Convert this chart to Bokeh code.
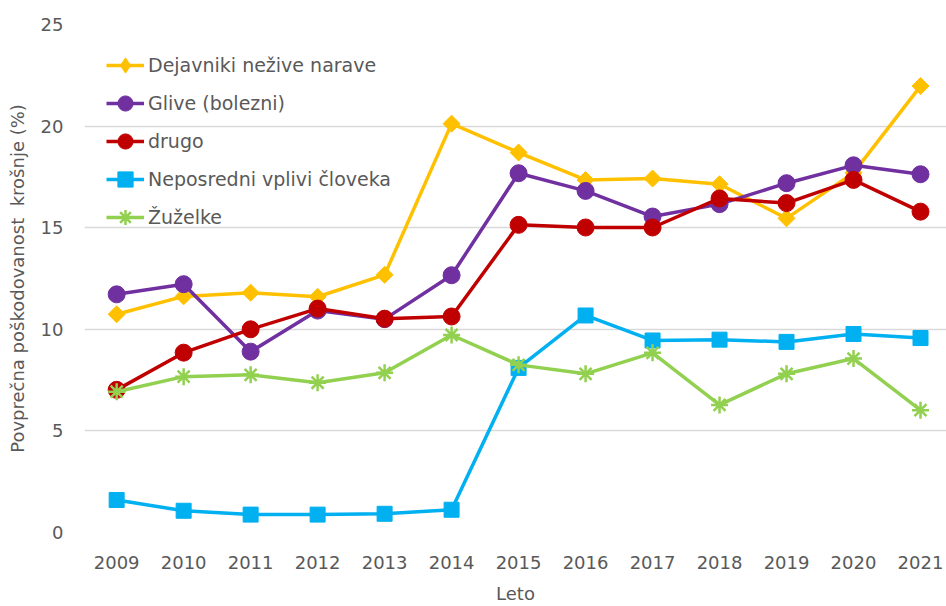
import numpy as np
from bokeh.plotting import figure
from bokeh.models import FixedTicker, Legend
from bokeh.embed import file_html
from bokeh.resources import INLINE

years = [2009, 2010, 2011, 2012, 2013, 2014, 2015, 2016, 2017, 2018, 2019, 2020, 2021]
dejavniki = [10.74, 11.62, 11.8, 11.6, 12.68, 20.12, 18.7, 17.35, 17.42, 17.14, 15.46, 17.7, 21.97]
glive = [11.72, 12.22, 8.9, 10.92, 10.5, 12.66, 17.68, 16.81, 15.55, 16.16, 17.19, 18.07, 17.63]
drugo = [7.02, 8.85, 10.0, 11.02, 10.52, 10.63, 15.14, 15.01, 15.01, 16.44, 16.21, 17.35, 15.79]
neposredni = [1.6, 1.07, 0.88, 0.88, 0.92, 1.12, 8.1, 10.68, 9.45, 9.49, 9.38, 9.77, 9.57]
zuzelke = [6.93, 7.67, 7.76, 7.37, 7.86, 9.72, 8.25, 7.81, 8.84, 6.28, 7.81, 8.56, 6.02]

names = ["Dejavniki nežive narave", "Glive (bolezni)", "drugo", "Neposredni vplivi človeka", "Žuželke"]
y_ticks = [0, 5, 10, 15, 20, 25]

FONT = "DejaVu Sans"
TXT = "#595959"

p = figure(width=946, height=606, output_backend="svg", toolbar_location=None,
           x_range=(2008.52, 2021.388), y_range=(0, 25),
           min_border_left=84, min_border_right=0, min_border_top=24, min_border_bottom=70)
p.outline_line_color = None
p.background_fill_color = "white"
p.border_fill_color = "white"

p.xgrid.visible = False
p.ygrid.grid_line_color = "#D9D9D9"
p.ygrid.grid_line_width = 1.5

p.xaxis.ticker = FixedTicker(ticks=years)
p.yaxis.ticker = FixedTicker(ticks=y_ticks)
for ax in (p.xaxis[0], p.yaxis[0]):
    ax.axis_line_color = None
    ax.major_tick_line_color = None
    ax.minor_tick_line_color = None
    ax.major_tick_out = 0
    ax.major_tick_in = 0
    ax.major_label_text_font = FONT
    ax.major_label_text_font_size = "18px"
    ax.major_label_text_color = TXT
    ax.axis_label_text_font = FONT
    ax.axis_label_text_font_size = "18px"
    ax.axis_label_text_color = TXT
    ax.axis_label_text_font_style = "normal"
p.xaxis.major_label_standoff = 23
p.yaxis.major_label_standoff = 21
p.xaxis.axis_label = "Leto"
p.xaxis.axis_label_standoff = 11
p.yaxis.axis_label = "Povprečna poškodovanost\u00a0 krošnje (%)"
p.yaxis.axis_label_standoff = 10

series = [dejavniki, glive, drugo, neposredni, zuzelke]
colors = ["#FFC000", "#7030A0", "#C00000", "#00B0F0", "#92D050"]
items = []
for name, vals, col in zip(names, series, colors):
    r1 = p.line(years, vals, line_color=col, line_width=3.5)
    if name.startswith("Dejavniki"):
        # diamond glyph used for the legend swatch (legend markers are drawn unrotated)
        r2 = p.scatter(years, vals, marker="diamond", size=12, fill_color=col, line_color=col)
        p.scatter(years, vals, marker="square", angle=np.pi / 4, size=12,
                  fill_color=col, line_color=col)
    elif name.startswith("Neposredni"):
        r2 = p.scatter(years, vals, marker="square", size=15, fill_color=col, line_color=col)
    elif name.startswith("Žuželke"):
        r2 = p.scatter(years, vals, marker="asterisk", size=17, line_color=col, line_width=2.5)
    else:
        r2 = p.scatter(years, vals, marker="circle", size=17, fill_color=col, line_color=col)
    items.append((name, [r1, r2]))

legend = Legend(items=items, location="top_left")
legend.border_line_color = None
legend.background_fill_alpha = 0
legend.margin = 22
legend.padding = 0
legend.spacing = 0
legend.glyph_width = 38
legend.glyph_height = 38
legend.label_height = 38
legend.label_standoff = 4
legend.label_text_font = FONT
legend.label_text_font_size = "19px"
legend.label_text_color = TXT
p.add_layout(legend)

open("out.html", "w").write(file_html(p, INLINE))
